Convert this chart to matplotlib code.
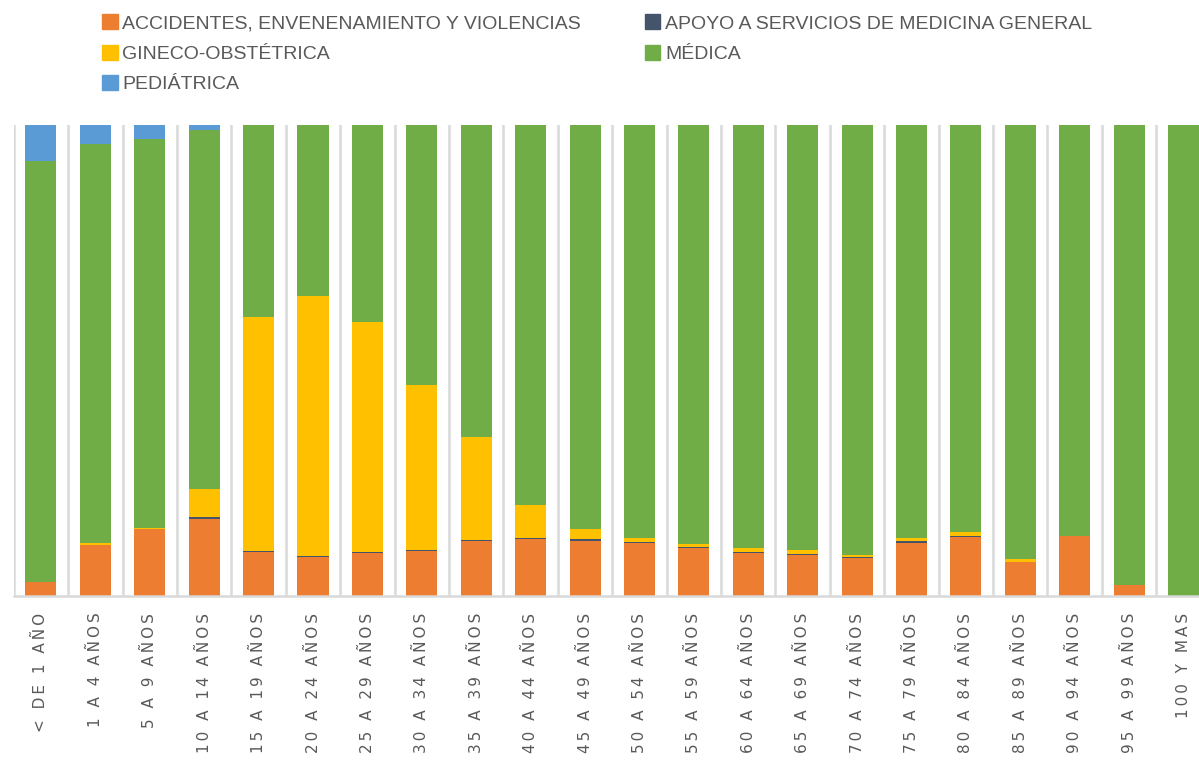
import numpy as np
import matplotlib.pyplot as plt
from matplotlib.patches import Patch

# age groups (x axis)
groups = ["< DE 1 AÑO", "1 A 4 AÑOS", "5 A 9 AÑOS", "10 A 14 AÑOS", "15 A 19 AÑOS",
          "20 A 24 AÑOS", "25 A 29 AÑOS", "30 A 34 AÑOS", "35 A 39 AÑOS", "40 A 44 AÑOS",
          "45 A 49 AÑOS", "50 A 54 AÑOS", "55 A 59 AÑOS", "60 A 64 AÑOS", "65 A 69 AÑOS",
          "70 A 74 AÑOS", "75 A 79 AÑOS", "80 A 84 AÑOS", "85 A 89 AÑOS", "90 A 94 AÑOS",
          "95 A 99 AÑOS", "100 Y MAS"]

# percentages (100% stacked)
accidentes = [3.0, 10.8, 14.2, 16.3, 9.3, 8.3, 9.1, 9.6, 11.7, 12.1, 11.7,
              11.3, 10.2, 9.1, 8.7, 8.1, 11.3, 12.5, 7.2, 12.7, 2.3, 0.0]
apoyo = [0.0, 0.0, 0.0, 0.4, 0.2, 0.3, 0.3, 0.1, 0.2, 0.2, 0.4,
         0.2, 0.2, 0.2, 0.3, 0.2, 0.3, 0.3, 0.0, 0.0, 0.0, 0.0]
gineco = [0.0, 0.4, 0.2, 6.0, 49.7, 55.0, 48.8, 35.0, 21.9, 7.0, 2.1,
          0.8, 0.6, 0.8, 0.8, 0.5, 0.8, 0.8, 0.6, 0.0, 0.0, 0.0]
pediatrica = [7.6, 4.0, 3.0, 1.0, 0.0, 0.0, 0.0, 0.0, 0.0, 0.0, 0.0,
              0.0, 0.0, 0.0, 0.0, 0.0, 0.0, 0.0, 0.0, 0.0, 0.0, 0.0]
medica = [100 - a - b - c - d for a, b, c, d in zip(accidentes, apoyo, gineco, pediatrica)]

names = ["ACCIDENTES, ENVENENAMIENTO Y VIOLENCIAS", "APOYO A SERVICIOS DE MEDICINA GENERAL",
         "GINECO-OBSTÉTRICA", "MÉDICA", "PEDIÁTRICA"]
colors = ["#ED7D31", "#44546A", "#FFC000", "#70AD47", "#5B9BD5"]
series = [accidentes, apoyo, gineco, medica, pediatrica]

fig = plt.figure(figsize=(11.99, 7.66), dpi=100)
ax = fig.add_axes([0.0115, 0.2219, 0.9982, 0.6149])

x = np.arange(len(groups))
bottom = np.zeros(len(groups))
for vals, c in zip(series, colors):
    ax.bar(x, vals, bottom=bottom, width=0.57, color=c, zorder=2)
    bottom += np.array(vals)

ax.set_xlim(-0.5, len(groups) - 0.5)
ax.set_ylim(0, 100)
ax.set_yticks([])

# vertical separators between categories
for b in np.arange(-0.5, len(groups), 1.0):
    ax.axvline(b, color="#d9d9d9", lw=1.8, zorder=1)

for s in ["top", "right", "left"]:
    ax.spines[s].set_visible(False)
ax.spines["bottom"].set_color("#d9d9d9")
ax.spines["bottom"].set_linewidth(1.8)

spaced = ["\u2009".join(g) for g in groups]
ax.set_xticks(x)
ax.set_xticklabels(spaced, rotation=90, va="top", ha="center",
                   fontsize=11, color="#595959", family="DejaVu Sans")
ax.tick_params(axis="x", length=0, pad=12)

handles = [Patch(color=c) for c in colors]
order = [0, 2, 4, 1, 3]
fig.legend([handles[i] for i in order], [names[i] for i in order],
           ncol=2, loc="upper left", bbox_to_anchor=(0.0705, 1.004),
           frameon=False, labelcolor="#595959",
           handlelength=0.8, handleheight=0.8, handletextpad=0.25,
           labelspacing=0.62, columnspacing=3.27,
           prop={"family": "Liberation Sans", "size": 14})

fig.savefig("out.png", dpi=100)
